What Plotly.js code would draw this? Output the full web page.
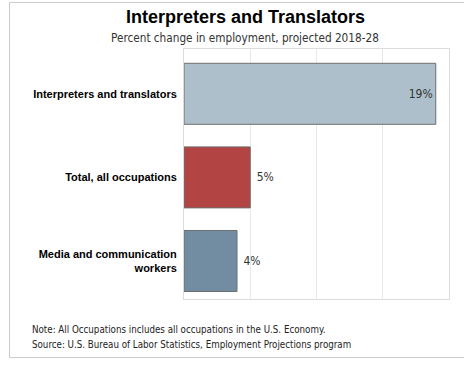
<!DOCTYPE html>
<html>
<head>
<meta charset="utf-8">
<script src="https://cdn.plot.ly/plotly-3.0.1.min.js"></script>
<style>html,body{margin:0;padding:0;background:#fff;}#chart{width:464px;height:372px;}</style>
</head>
<body>
<div id="chart"></div>
<script>
const categories = ["Interpreters and translators", "Total, all occupations", "Media and communication<br>workers"];
const values = [19, 5, 4];
const barColors = ["#adbfca", "#b34444", "#728ca2"];
const textPositions = ["inside", "outside", "outside"];
const chartTitle = "Interpreters and Translators";
const chartSubtitle = "Percent change in employment, projected 2018-28";
const noteLines = ["Note: All Occupations includes all occupations in the U.S. Economy.", "Source: U.S. Bureau of Labor Statistics, Employment Projections program"];

const W = 464, H = 372, L = 184, R = 15, T = 49, B = 73;
const pw = W - L - R, ph = H - T - B;
const px = x => (x - L) / pw;
const py = y => (H - B - y) / ph;
const smallFont = "'DejaVu Sans Condensed', 'DejaVu Sans', sans-serif";

const trace = {
  type: "bar",
  orientation: "h",
  y: categories,
  x: values,
  marker: {color: barColors, line: {color: "#6e6e6e", width: 1}},
  width: 0.73,
  text: values.map((v, i) => (textPositions[i] === "outside" ? "\u00a0" : "") + v + "%"),
  textposition: textPositions,
  insidetextanchor: "end",
  textfont: {family: smallFont, size: 12, color: "#333"},
  cliponaxis: false,
  hoverinfo: "none"
};

const layout = {
  width: W, height: H,
  margin: {l: L, r: R, t: T, b: B},
  paper_bgcolor: "#fff", plot_bgcolor: "#fff",
  showlegend: false,
  xaxis: {range: [0, 20], dtick: 5, showticklabels: false, showgrid: true, gridcolor: "#e8e8e8",
    zeroline: false, showline: true, mirror: true, linecolor: "#dcdcdc", linewidth: 1, ticks: "", fixedrange: true},
  yaxis: {range: [2.455, -0.536], showline: true, mirror: true, linecolor: "#dcdcdc", linewidth: 1, ticks: "",
    ticklabelstandoff: 4,
    tickfont: {family: "'Liberation Sans', Arial, sans-serif", size: 11, color: "#000", weight: "bold"}, fixedrange: true},
  shapes: [
    {type: "rect", xref: "paper", yref: "paper", x0: px(9.5), x1: px(475), y0: py(357.5), y1: py(2.5),
     line: {color: "#cccccc", width: 1}, fillcolor: "rgba(0,0,0,0)", layer: "below"}
  ],
  annotations: [
    {text: "<b>" + chartTitle + "</b>", xref: "paper", yref: "paper", x: px(245), y: py(17), xanchor: "center", yanchor: "middle",
     showarrow: false, font: {family: "'Liberation Sans', Arial, sans-serif", size: 18, color: "#000"}},
    {text: chartSubtitle, xref: "paper", yref: "paper", x: px(245), y: py(38), xanchor: "center", yanchor: "middle",
     showarrow: false, font: {family: smallFont, size: 11.7, color: "#333"}},
    {text: noteLines[0], xref: "paper", yref: "paper", x: px(30), y: py(329), xanchor: "left", yanchor: "middle",
     showarrow: false, font: {family: smallFont, size: 9.7, color: "#222"}},
    {text: noteLines[1], xref: "paper", yref: "paper", x: px(30), y: py(344), xanchor: "left", yanchor: "middle",
     showarrow: false, font: {family: smallFont, size: 9.7, color: "#222"}}
  ]
};

Plotly.newPlot("chart", [trace], layout, {displayModeBar: false, staticPlot: true});
</script>
</body>
</html>
